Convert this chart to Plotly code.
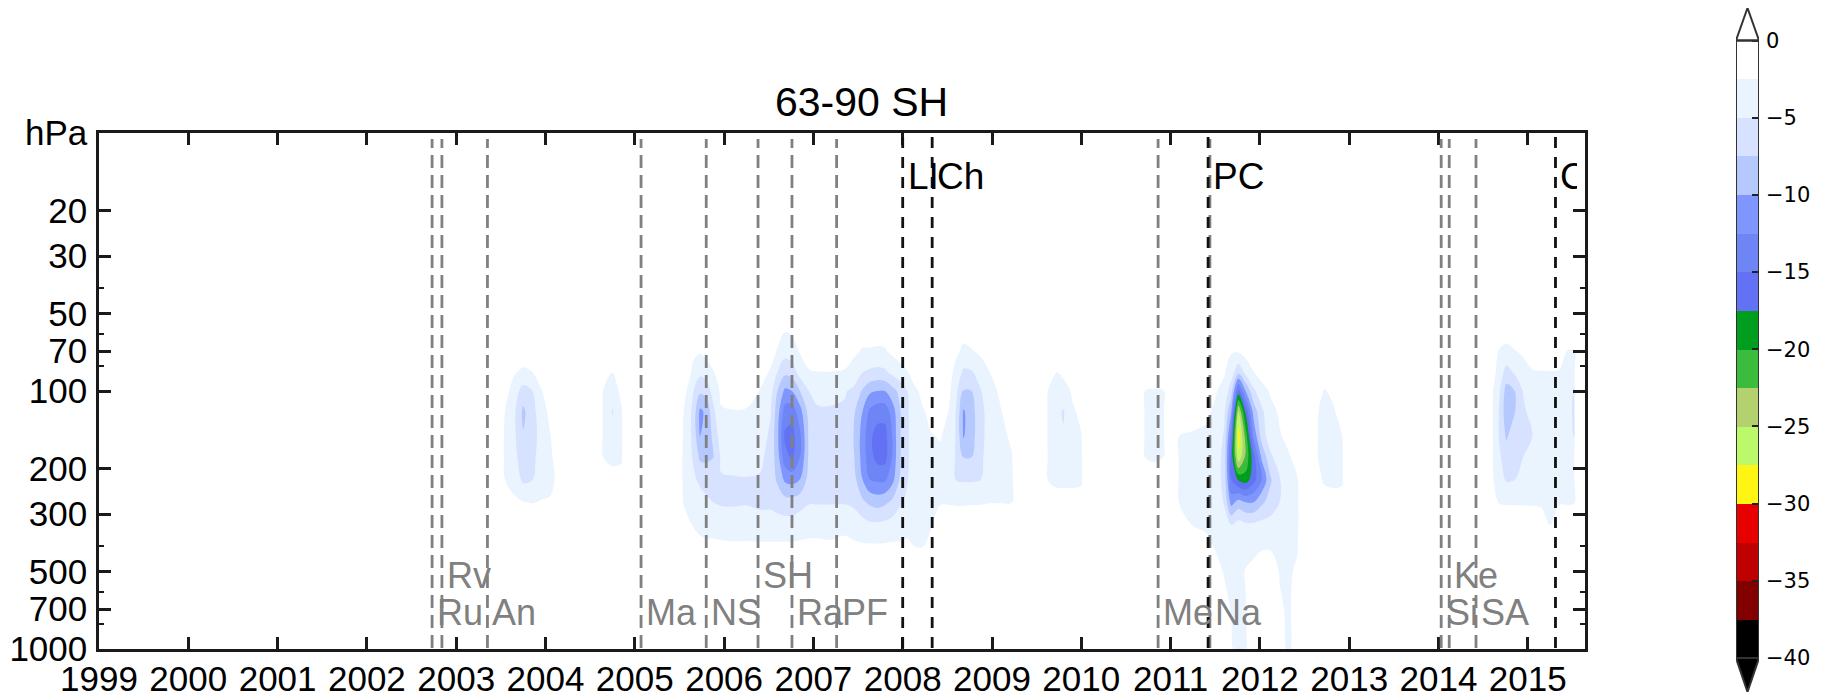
import numpy as np
import plotly.graph_objects as go

# ---------------- data ----------------
levels_hpa = [50, 70, 85, 100, 120, 150, 180, 220, 270, 330, 400, 500, 700, 1000]

t_quiet = [1998.0, 1999.0]
z_quiet = [[0, 0, 0, 0, 0, 0, 0, 0, 0, 0, 0, 0, 0, 0],
           [0, 0, 0, 0, 0, 0, 0, 0, 0, 0, 0, 0, 0, 0]]

t_2003 = [2003.40, 2003.55, 2003.65, 2003.75, 2003.85, 2003.95, 2004.05, 2004.15, 2004.25]
z_2003 = [
    [0, 0, 0, 0, 0, 0, 0, 0, 0, 0, 0, 0, 0, 0],
    [0, 0, -0.5, -1.5, -2.6, -2.8, -2.8, -2.6, -1, -0.3, 0, 0, 0, 0],
    [0, -1, -2.3, -3.8, -4.5, -4.5, -4.2, -3.6, -2.0, -0.5, 0, 0, 0, 0],
    [0, -1, -3, -6, -8, -7.3, -6.5, -5.5, -2.4, -0.5, 0, 0, 0, 0],
    [0, -0.5, -2.6, -5.1, -6, -6.2, -5.8, -5.2, -2.6, -0.5, 0, 0, 0, 0],
    [0, 0, -1.2, -2.7, -3.5, -4, -3.8, -3.3, -2.4, -0.5, 0, 0, 0, 0],
    [0, 0, -0.3, -1.2, -2, -2.6, -2.7, -2.8, -2.4, -0.3, 0, 0, 0, 0],
    [0, 0, 0, 0, -0.5, -1.5, -2, -2.2, -2, 0, 0, 0, 0, 0],
    [0, 0, 0, 0, 0, 0, 0, 0, 0, 0, 0, 0, 0, 0],
]

t_2004 = [2004.55, 2004.65, 2004.75, 2004.85, 2004.95]
z_2004 = [
    [0, 0, 0, 0, 0, 0, 0, 0, 0, 0, 0, 0, 0, 0],
    [0, 0, -1.5, -2.6, -2.8, -2.8, -2.6, -1, 0, 0, 0, 0, 0, 0],
    [0, 0, -2.6, -3.5, -5.2, -4, -3, -1.8, -0.5, 0, 0, 0, 0, 0],
    [0, 0, -1, -2, -2.7, -2.8, -2.7, -2, 0, 0, 0, 0, 0, 0],
    [0, 0, 0, 0, 0, 0, 0, 0, 0, 0, 0, 0, 0, 0],
]

t_2006 = [2005.45, 2005.55, 2005.65, 2005.73, 2005.80, 2005.88, 2005.97, 2006.10,
          2006.25, 2006.40, 2006.52, 2006.60, 2006.68, 2006.76, 2006.85, 2006.95,
          2007.05, 2007.20, 2007.35, 2007.45, 2007.55, 2007.63, 2007.72, 2007.80,
          2007.88, 2007.96, 2008.05, 2008.13, 2008.22, 2008.32, 2008.42, 2008.52,
          2008.60, 2008.68, 2008.77, 2008.87, 2008.97, 2009.10, 2009.22, 2009.33]
z_2006 = [
    [0, 0, 0, 0, 0, 0, 0, 0, 0, 0, 0, 0, 0, 0],
    [0, 0, -0.5, -1.5, -2.6, -2.8, -3, -3, -2.7, -1.5, -0.5, 0, 0, 0],
    [0, -2, -3, -4.8, -5.5, -5.5, -5.2, -4.5, -3.5, -2.6, -1.5, 0, 0, 0],
    [0, -2.2, -4.5, -7, -10.5, -10, -8, -5.5, -4, -3, -2, -0.5, 0, 0],
    [0, -1.5, -4, -6.5, -9.5, -9, -8, -6, -4.5, -3.2, -2.1, -0.5, 0, 0],
    [0, -0.5, -2.7, -4, -5.5, -7, -7.6, -5.8, -5, -3.2, -2.1, -1, 0, 0],
    [0, 0, -1, -2, -2.7, -3.5, -4.5, -5.2, -5.3, -3.5, -2.1, -1, 0, 0],
    [0, 0, -0.5, -1.5, -2.6, -3.2, -4, -5.2, -5.3, -3.8, -2.1, -1, 0, 0],
    [0, 0, -0.5, -1.5, -2.7, -3.3, -4.2, -5.1, -5.2, -3.7, -2.1, -1, 0, 0],
    [0, -0.5, -1.5, -2.6, -3.2, -3.8, -4.5, -5.2, -5.5, -4, -2.1, -1, 0, 0],
    [0, -1.5, -2.8, -4, -4.8, -5.5, -5.8, -6, -5.5, -4, -2.1, -0.5, 0, 0],
    [-0.5, -2.7, -5.2, -7.6, -9, -9.5, -9, -8, -6, -4, -2.1, -0.5, 0, 0],
    [-1, -4, -7, -10.5, -13.5, -15.5, -14, -10.5, -6.5, -4, -2.1, -0.5, 0, 0],
    [-1, -3.5, -6.5, -10, -14, -16, -15.5, -11, -6.5, -4, -2.1, -0.5, 0, 0],
    [-0.5, -2.3, -4, -7.5, -11, -13, -12.5, -10, -6, -3.5, -2.1, -0.5, 0, 0],
    [0, -1.5, -2.7, -5, -6.5, -7, -7, -6.5, -5.2, -3.2, -2.1, -0.5, 0, 0],
    [0, -1, -2.6, -4.5, -5.2, -5.2, -5.3, -5.3, -5.2, -3.2, -2.1, -0.5, 0, 0],
    [0, -1, -2.6, -4.5, -5.2, -5.3, -5.4, -5.4, -5.2, -3.2, -2.2, -1, 0, 0],
    [0, -1.5, -2.7, -4.8, -5.3, -5.5, -5.6, -5.5, -5.2, -3, -2.0, -0.5, 0, 0],
    [0, -2, -3.5, -5.5, -7, -7.5, -7.2, -6.5, -5.5, -3.5, -2.1, -0.5, 0, 0],
    [-0.5, -2.7, -5, -7.8, -10, -11, -11, -10, -7, -4, -2.2, -0.5, 0, 0],
    [-0.5, -2.7, -5.5, -9.5, -13, -14.5, -14, -12.5, -8, -4.5, -2.2, -0.5, 0, 0],
    [-0.5, -2.8, -5.8, -10, -14, -16, -16, -13, -8.5, -4.5, -2.2, -0.5, 0, 0],
    [-0.5, -2.7, -5.5, -10, -14, -16, -16, -13, -8, -4.3, -2.2, -0.5, 0, 0],
    [0, -2, -4.5, -8.5, -11.5, -12.5, -12.5, -11, -7, -4, -2.1, -0.5, 0, 0],
    [0, -1.5, -3.5, -7, -8, -8, -8, -7.6, -5.5, -3.5, -2.2, -1, 0, 0],
    [0, -1, -2.7, -5, -5.3, -5.3, -5.3, -5.2, -4.5, -3, -2.2, -0.5, 0, 0],
    [0, 0, -1.5, -3, -3.8, -4, -4, -3.8, -3.5, -3, -2.5, -1, 0, 0],
    [0, 0, -0.5, -2, -2.7, -3, -3.2, -3.2, -3.2, -3, -2.6, -1, 0, 0],
    [0, 0, 0, -1, -2, -2.6, -3, -3, -3, -2.7, -1.5, 0, 0, 0],
    [0, 0, 0, -0.5, -1.5, -2.4, -2.8, -3, -2.7, -1, 0, 0, 0, 0],
    [0, -0.5, -1.5, -2, -2.6, -3, -3.2, -3.2, -2.7, -1, 0, 0, 0, 0],
    [0, -2, -3.5, -4.5, -5.2, -5.3, -5.4, -5.2, -2.8, -1, 0, 0, 0, 0],
    [-0.5, -3, -5.5, -7.6, -10.3, -10.2, -7.6, -5.3, -2.8, -1, 0, 0, 0, 0],
    [0, -2.7, -5.3, -7.5, -8.5, -8.5, -7.6, -5.3, -2.7, -1, 0, 0, 0, 0],
    [0, -2, -4, -5.2, -5.8, -5.8, -5.5, -5.1, -2.7, -1, 0, 0, 0, 0],
    [0, -1, -2.6, -3.5, -4, -4, -4, -3.5, -2.6, -0.5, 0, 0, 0, 0],
    [0, 0, -1, -2, -2.6, -3, -3, -3, -2.6, -0.5, 0, 0, 0, 0],
    [0, 0, 0, -0.5, -1.2, -2.2, -2.6, -2.8, -2.6, 0, 0, 0, 0, 0],
    [0, 0, 0, 0, 0, 0, 0, 0, 0, 0, 0, 0, 0, 0],
]

t_2009 = [2009.55, 2009.63, 2009.73, 2009.80, 2009.90, 2010.00, 2010.10]
z_2009 = [
    [0, 0, 0, 0, 0, 0, 0, 0, 0, 0, 0, 0, 0, 0],
    [0, 0, -1, -2.6, -2.8, -2.8, -2.7, -2.6, -1.2, 0, 0, 0, 0, 0],
    [0, 0, -2.6, -3.5, -4.5, -4, -3.2, -2.8, -2, 0, 0, 0, 0, 0],
    [0, 0, -2, -3.5, -5.2, -4.8, -3.2, -2.8, -2, 0, 0, 0, 0, 0],
    [0, 0, -1, -2.2, -2.8, -3, -3, -2.8, -2, 0, 0, 0, 0, 0],
    [0, 0, 0, -1, -2, -2.6, -2.7, -2.7, -2, 0, 0, 0, 0, 0],
    [0, 0, 0, 0, 0, 0, 0, 0, 0, 0, 0, 0, 0, 0],
]

t_2010 = [2010.60, 2010.72, 2010.82, 2010.92]
z_2010 = [
    [0, 0, 0, 0, 0, 0, 0, 0, 0, 0, 0, 0, 0, 0],
    [0, 0, -0.5, -2.6, -2.8, -2.8, -2.6, -1, 0, 0, 0, 0, 0, 0],
    [0, 0, -1, -2.7, -3, -3, -2.8, -1.5, 0, 0, 0, 0, 0, 0],
    [0, 0, -0.5, -2.6, -2.7, -2.7, -2.5, -1, 0, 0, 0, 0, 0, 0],
]

t_2011 = [2011.00, 2011.10, 2011.25, 2011.40, 2011.50, 2011.60, 2011.68, 2011.76,
          2011.84, 2011.93, 2012.02, 2012.12, 2012.22, 2012.32, 2012.42, 2012.52]
z_2011 = [
    [0, 0, 0, 0, 0, 0, 0, 0, 0, 0, 0, 0, 0, 0],
    [0, 0, 0, 0, -1, -2.6, -2.8, -2.8, -2.7, -1, 0, 0, 0, 0],
    [0, 0, 0, -0.5, -1.8, -2.7, -3, -3, -3, -2.6, -1, 0, 0, 0],
    [0, 0, 0, -1, -2.2, -2.8, -3.2, -3.3, -3.2, -2.8, -2, -0.5, 0, 0],
    [0, -0.5, -1.5, -2.3, -2.8, -3.3, -3.6, -3.6, -3.4, -3.0, -2.7, -1.5, -0.3, 0],
    [0, -1.2, -2.3, -3.2, -4.5, -5.3, -5.8, -5.8, -5.2, -4, -3.2, -2.7, -1.5, -0.5],
    [-0.5, -2.3, -3.8, -6.5, -10, -14, -16, -15, -11, -5, -3.6, -3, -2.7, -2],
    [-0.5, -2.2, -7, -16, -25, -29, -27, -18, -9, -4, -3.5, -3, -2.7, -5.2],
    [0, -1.5, -4.5, -10, -17, -21.5, -22, -19, -10, -4.5, -3.2, -2.4, -2.6, -2.8],
    [0, -0.8, -2.6, -5.5, -9, -12, -16, -16, -10, -4.5, -3, -2, -1, -0.5],
    [0, -0.3, -1.5, -3.5, -5.5, -6.5, -9.5, -12.5, -8, -4.2, -2.8, -1, 0, 0],
    [0, 0, -0.8, -2.2, -3.2, -3.5, -5.5, -7.8, -6.5, -4, -2.7, -1.5, -1, 0],
    [0, 0, -0.3, -1.2, -2.2, -2.7, -3.5, -5.2, -5, -3.5, -2.8, -2.6, -2.3, -2],
    [0, 0, 0, -0.5, -1.2, -2, -2.7, -3.2, -3.3, -3, -2.8, -2.7, -2.7, -2.7],
    [0, 0, 0, 0, -0.5, -1, -1.8, -2.6, -2.8, -2.8, -2.6, -2.3, -2, -2],
    [0, 0, 0, 0, 0, 0, 0, 0, 0, 0, 0, 0, 0, 0],
]

t_2013 = [2012.66, 2012.72, 2012.82, 2012.92, 2013.02]
z_2013 = [
    [0, 0, 0, -1.5, -2.6, -2.7, -2.7, -2, 0, 0, 0, 0, 0, 0],
    [0, 0, -0.5, -2.7, -3, -3, -2.9, -2.8, -1.5, 0, 0, 0, 0, 0],
    [0, 0, 0, -2, -2.8, -2.9, -2.9, -2.8, -2, 0, 0, 0, 0, 0],
    [0, 0, 0, -0.5, -1.5, -2.6, -2.7, -2.7, -2, 0, 0, 0, 0, 0],
    [0, 0, 0, 0, 0, 0, 0, 0, 0, 0, 0, 0, 0, 0],
]

t_2015 = [2014.50, 2014.62, 2014.68, 2014.76, 2014.85, 2014.95, 2015.05, 2015.15,
          2015.25, 2015.35, 2015.45, 2015.52, 2015.53, 2016.50]
z_2015 = [
    [0, 0, 0, 0, 0, 0, 0, 0, 0, 0, 0, 0, 0, 0],
    [0, -0.5, -2, -2.7, -2.8, -2.8, -2.7, -2.6, -1, 0, 0, 0, 0, 0],
    [-1, -2.6, -3.5, -4.6, -5.2, -5.2, -4.6, -4, -2.7, -0.5, 0, 0, 0, 0],
    [-0.5, -3, -6, -8.5, -9, -7.8, -6.2, -5.3, -2.8, -0.5, 0, 0, 0, 0],
    [0, -2.6, -4.8, -7.6, -7.7, -6.2, -5.4, -5.1, -2.8, -0.5, 0, 0, 0, 0],
    [0, -2.2, -3.2, -4.8, -5.4, -5.3, -5, -4, -2.8, -0.5, 0, 0, 0, 0],
    [0, -1.5, -2.7, -3.5, -4.2, -5.1, -4, -3.5, -2.8, -1, 0, 0, 0, 0],
    [0, -1.5, -2.6, -3, -3, -3, -3, -3, -2.8, -1.5, 0, 0, 0, 0],
    [0, -1.5, -2.6, -2.8, -2.8, -2.8, -2.8, -2.8, -2.8, -2.6, -0.5, 0, 0, 0],
    [0, -1.8, -2.6, -2.8, -2.8, -2.8, -2.8, -2.8, -2.7, -1, 0, 0, 0, 0],
    [0, -2.6, -3, -3.5, -4, -3.5, -3, -2.8, -2.7, -1, 0, 0, 0, 0],
    [0, -2.6, -4, -5.3, -5.5, -5.2, -3, -2.8, -2.7, -1, 0, 0, 0, 0],
    [0, 0, 0, 0, 0, 0, 0, 0, 0, 0, 0, 0, 0, 0],
    [0, 0, 0, 0, 0, 0, 0, 0, 0, 0, 0, 0, 0, 0],
]

# colour bands, from the lowest (-40..-37.5) to the highest (-2.5..0)
band_colors = ['#000000', '#820000', '#be0000', '#e60000', '#fff514', '#bcf96a',
               '#b3d16e', '#3cbc3d', '#009e1e', '#6372f4', '#6d85f5', '#7f96ff',
               '#b5c9ff', '#d6e2ff', '#eaf4fe', '#ffffff']
cb_ticks = [0, -5, -10, -15, -20, -25, -30, -35, -40]

year_ticks = list(range(1999, 2016))
p_ticks = [10, 20, 30, 50, 70, 100, 200, 300, 500, 700, 1000]
p_ticktext = ['hPa', '20', '30', '50', '70', '100', '200', '300', '500', '700', '1000']
p_minor = [40, 60, 80, 400, 600, 800]

gray_names = ['Ru', 'Rv', 'An', 'Ma', 'NS', 'SH', 'Ra', 'PF', 'Me', 'Na', 'Si', 'Ke', 'SA']
gray_years = [2002.73, 2002.84, 2003.35, 2005.07, 2005.80, 2006.38, 2006.76, 2007.26,
              2010.86, 2011.44, 2014.03, 2014.12, 2014.42]
gray_rows = [0, 1, 0, 0, 0, 1, 0, 0, 0, 0, 0, 1, 0]
black_names = ['LI', 'Ch', 'PC', 'C']
black_years = [2008.00, 2008.33, 2011.42, 2015.31]

# ---------------- build ----------------
years = t_quiet + t_2003 + t_2004 + t_2006 + t_2009 + t_2010 + t_2011 + t_2013 + t_2015
cols = z_quiet + z_2003 + z_2004 + z_2006 + z_2009 + z_2010 + z_2011 + z_2013 + z_2015
Z = np.array(cols, dtype=float).T
# quiet rows beyond the plotted pressure range
p_all = [5] + levels_hpa + [2000]
Z = np.vstack([np.zeros((1, Z.shape[1])), Z, np.zeros((1, Z.shape[1]))])

n_b = len(band_colors)
cscale = [[k / (n_b - 1), c] for k, c in enumerate(band_colors)]

# page has an 8px body margin: figure occupies page pixels 8..1824 x 8..699
OFF = 8
W, H = 1824 - OFF, 699 - OFF
L, R, T, B = 99, 1585, 133, 649          # plot frame in page pixels
XMAX = 1999 + (R - L) / 89.3

def fx(px):
    return (px - OFF) / W

def fy(py):
    return 1 - (py - OFF) / H

FONT = 'Liberation Sans, Arial, sans-serif'

fig = go.Figure()
fig.add_trace(go.Contour(
    x=years, y=p_all, z=Z,
    autocontour=False,
    contours=dict(start=-37.5, end=-2.5, size=2.5, coloring='fill', showlines=False),
    line=dict(width=0),
    colorscale=cscale, showscale=False, hoverinfo='skip',
    xaxis='x', yaxis='y'))

# colour bar drawn as a one-column heatmap
cb_centers = [-40 + 2.5 * k + 1.25 for k in range(n_b)]
fig.add_trace(go.Heatmap(
    x=[0], y=cb_centers, z=[[v] for v in cb_centers],
    colorscale=cscale, zmin=cb_centers[0], zmax=cb_centers[-1],
    showscale=False, hoverinfo='skip', xaxis='x2', yaxis='y2'))

axis_col = '#1a1a1a'
fig.update_layout(
    width=W, height=H,
    margin=dict(l=0, r=0, t=0, b=0, autoexpand=False),
    paper_bgcolor='white', plot_bgcolor='white', showlegend=False,
    xaxis=dict(domain=[fx(L), fx(R)], range=[1999, XMAX], anchor='y',
               tickmode='array', tickvals=year_ticks, ticktext=[str(y) for y in year_ticks],
               ticks='inside', ticklen=12, tickwidth=2.5, tickcolor=axis_col,
               showline=True, linewidth=2.5, linecolor=axis_col, mirror='allticks',
               showgrid=False, zeroline=False, ticklabelstandoff=-3,
               tickfont=dict(family=FONT, size=35, color='black')),
    yaxis=dict(domain=[fy(B), fy(T)], type='log', range=[3, 1], anchor='x',
               tickmode='array', tickvals=p_ticks, ticktext=p_ticktext,
               ticks='inside', ticklen=12, tickwidth=2.5, tickcolor=axis_col,
               showline=True, linewidth=2.5, linecolor=axis_col, mirror='allticks',
               showgrid=False, zeroline=False, ticklabelstandoff=2,
               minor=dict(tickvals=p_minor, ticks='inside', ticklen=5, tickwidth=2,
                          tickcolor=axis_col, showgrid=False),
               tickfont=dict(family=FONT, size=35, color='black')),
    xaxis2=dict(domain=[fx(1736), fx(1759)], range=[-0.5, 0.5], anchor='y2',
                visible=False, fixedrange=True),
    yaxis2=dict(domain=[fy(692), fy(8)], range=[-42.2, 2.105], anchor='x2', side='right',
                tickmode='array', tickvals=cb_ticks,
                ticktext=['0' if v == 0 else '\u2212' + str(-v) for v in cb_ticks],
                ticks='inside', ticklen=7, tickwidth=1.5, tickcolor='#222',
                showline=False, showgrid=False, zeroline=False, ticklabelstandoff=6,
                tickfont=dict(family='DejaVu Sans, sans-serif', size=21, color='black')),
)

shapes = []
for yr in gray_years:
    shapes.append(dict(type='line', xref='x', yref='paper', x0=yr, x1=yr,
                       y0=fy(648), y1=fy(139),
                       line=dict(color='#808080', width=2.8, dash='13px,7px'), layer='above'))
for yr in black_years:
    shapes.append(dict(type='line', xref='x', yref='paper', x0=yr, x1=yr,
                       y0=fy(648), y1=fy(136),
                       line=dict(color='#111111', width=2.8, dash='11px,9px'), layer='above'))
# colour bar end triangles and outline
shapes.append(dict(type='path', xref='x2', yref='y2', path='M -0.5,0 L 0.5,0 L 0,2.105 Z',
                   fillcolor='white', line=dict(color='#333', width=2), layer='above'))
shapes.append(dict(type='path', xref='x2', yref='y2', path='M -0.5,-40 L 0.5,-40 L 0,-42.2 Z',
                   fillcolor='black', line=dict(color='#333', width=2), layer='above'))
shapes.append(dict(type='rect', xref='x2', yref='y2', x0=-0.5, x1=0.5, y0=-40, y1=0,
                   line=dict(color='#333', width=2), layer='above'))
fig.update_layout(shapes=shapes)

row_p = [720, 518]
ann = []
for name, yr, row in zip(gray_names, gray_years, gray_rows):
    ann.append(dict(x=yr, y=np.log10(row_p[row]), xref='x', yref='y', text=name,
                    showarrow=False, xanchor='left', yanchor='middle', xshift=3,
                    font=dict(family=FONT, size=36, color='#808080')))
for name, yr in zip(black_names, black_years):
    a = dict(x=yr, y=np.log10(14.8), xref='x', yref='y', text=name,
             showarrow=False, xanchor='left', yanchor='middle', xshift=3,
             font=dict(family=FONT, size=37, color='black'))
    if name == 'C':
        a.update(width=17, align='left')
    ann.append(a)
ann.append(dict(x=fx(861), y=fy(101.5), xref='paper', yref='paper', text='63-90 SH',
                showarrow=False, xanchor='center', yanchor='middle',
                font=dict(family=FONT, size=41, color='black')))
fig.update_layout(annotations=ann)

fig.write_html('out.html')
